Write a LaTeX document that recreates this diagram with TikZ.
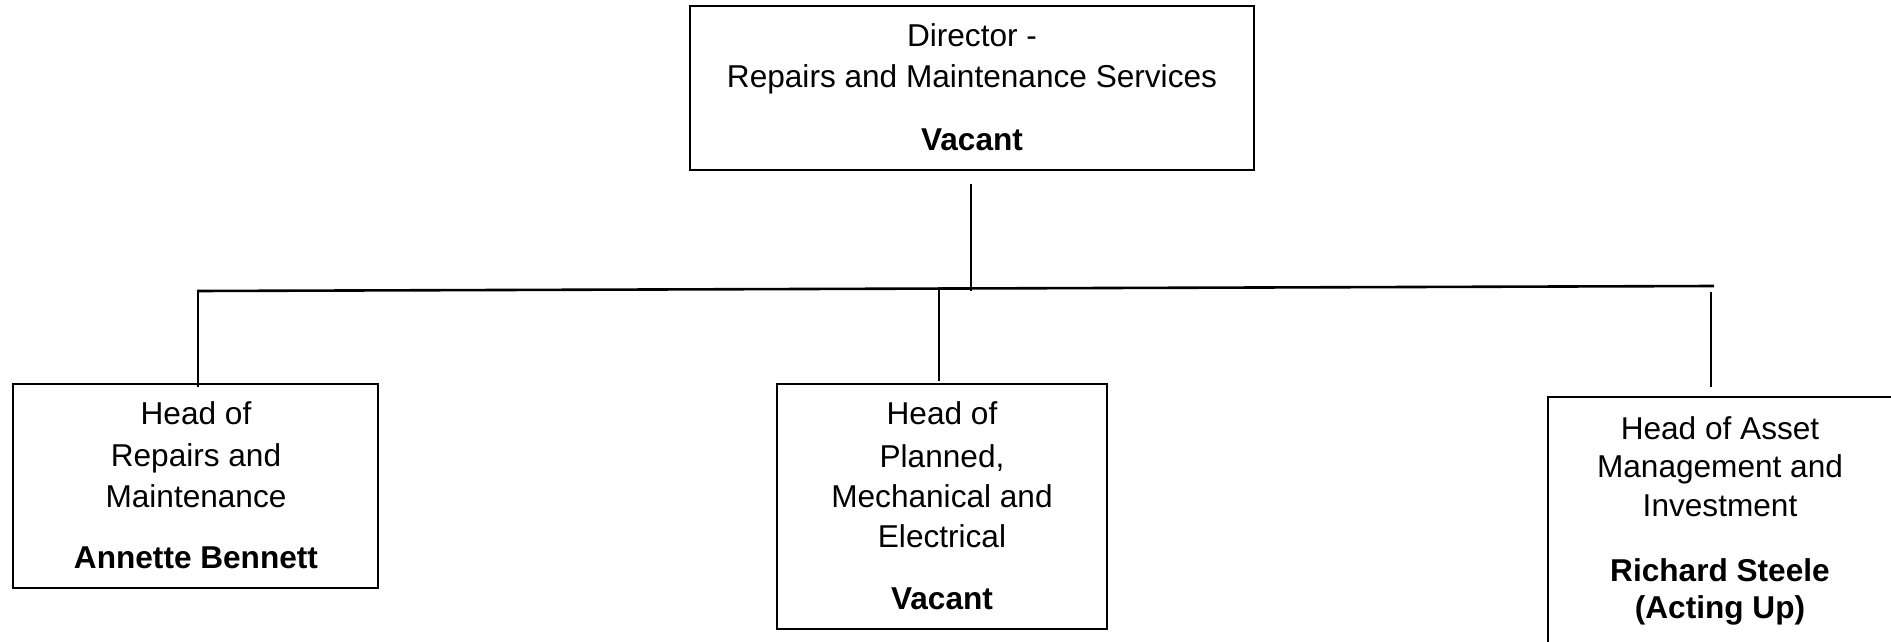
\documentclass[tikz,border=0pt]{standalone}
\usepackage{fontspec}
\setmainfont{Liberation Sans}
\begin{document}
\begin{tikzpicture}[x=1pt,y=-1pt,
  box/.style={draw=black, line width=2pt, rectangle, inner sep=0pt, outer sep=0pt, anchor=north west},
  txt/.style={anchor=base, inner sep=0pt, font=\fontsize{31.6}{41}\selectfont},
  btxt/.style={anchor=base, inner sep=0pt, font=\fontsize{31.6}{41}\selectfont\bfseries},
  conn/.style={line width=2.2pt, line cap=butt}]
\useasboundingbox (0,0) rectangle (1891,642);
\fill[white] (0,0) rectangle (1891,642);

% Director
\node[box, minimum width=564pt, minimum height=164pt] (dir) at (690,6) {};
\node[txt]  (dirA) at (972,47)  {Director -};
\node[txt]  (dirB) at (972,88)  {Repairs and Maintenance Services};
\node[btxt] (dirC) at (972,150) {Vacant};

% Left box
\node[box, minimum width=365pt, minimum height=204pt] (left) at (13,384) {};
\node[txt]  (lA) at (196,424) {Head of};
\node[txt]  (lB) at (196,466) {Repairs and};
\node[txt]  (lC) at (196,507) {Maintenance};
\node[btxt] (lD) at (196,568) {Annette Bennett};

% Middle box
\node[box, minimum width=330pt, minimum height=245pt] (mid) at (777,384) {};
\node[txt]  (mA) at (942,424) {Head of};
\node[txt]  (mB) at (942,467) {Planned,};
\node[txt]  (mC) at (942,507) {Mechanical and};
\node[txt]  (mD) at (942,547) {Electrical};
\node[btxt] (mE) at (942,609) {Vacant};

% Right box (cut by the picture edge)
\begin{scope}
\clip (0,0) rectangle (1891,642);
\node[box, minimum width=350pt, minimum height=300pt] (right) at (1548,397) {};
\end{scope}
\node[txt]  (rA) at (1720,439) {Head of Asset};
\node[txt]  (rB) at (1720,477) {Management and};
\node[txt]  (rC) at (1720,516) {Investment};
\node[btxt] (rD) at (1720,581) {Richard Steele};
\node[btxt] (rE) at (1720,618) {(Acting Up)};

% connector points
\coordinate (d1) at (971,184);
\coordinate (d2) at (971,291);
\coordinate (hL) at (197,291);
\coordinate (hR) at (1714,286);
\coordinate (l1) at (198,290);
\coordinate (l2) at (198,387);
\coordinate (m1) at (939,287);
\coordinate (m2) at (939,381);
\coordinate (r1) at (1711,292);
\coordinate (r2) at (1711,387);

\draw[conn] (d1) -- (d2);
\draw[conn, line width=2.6pt] (hL) -- (hR);
\draw[conn] (l1) -- (l2);
\draw[conn] (m1) -- (m2);
\draw[conn] (r1) -- (r2);
\end{tikzpicture}
\end{document}
